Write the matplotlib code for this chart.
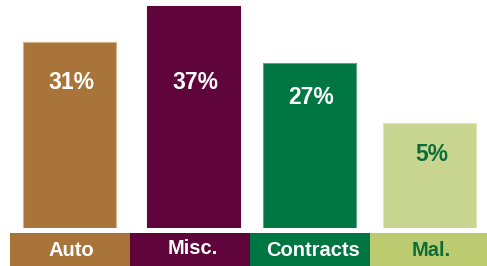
import matplotlib
matplotlib.use("Agg")
import matplotlib.pyplot as plt
import numpy as np

# Data
categories = ["Auto", "Misc.", "Contracts", "Mal."]
value_labels = ["31%", "37%", "27%", "5%"]
bar_heights = [31, 37, 27.5, 17.5]   # drawn heights

# Styles
bar_colors = ["#A8743A", "#5F053B", "#007642", "#C9D692"]
edge_colors = ["#D2B48C", "#5F053B", "#5FA57F", "#DDE6BC"]
strip_colors = ["#A8743A", "#5F053B", "#007642", "#BCCB6F"]
text_colors = ["white", "white", "white", "#0B6E3A"]
label_y = [24.3, 24.2, 21.7, 12.2]
x_offsets = [0.0, 0.037, 0.0, 0.0]

plt.rcParams['font.family'] = ['Liberation Sans', 'DejaVu Sans']

fig = plt.figure(figsize=(4.87, 2.66), dpi=100)
fig.patch.set_facecolor("white")

x = np.arange(len(categories)) + np.array(x_offsets)
xlim = (-69 / 120, (487 - 69) / 120)

ax = fig.add_axes([0, 1 - 228 / 266, 1, 228 / 266])
ax.bar(x, bar_heights, width=0.775, color=bar_colors, edgecolor=edge_colors, linewidth=0.8)
for xi, lab, ly, tc in zip(x, value_labels, label_y, text_colors):
    ax.text(xi + 0.02, ly, lab, ha="center", va="center", color=tc, fontsize=16.5, fontweight="bold")
ax.set_xlim(*xlim)
ax.set_ylim(0, 38)
ax.axis("off")

axs = fig.add_axes([0, 0, 1, 32.7 / 266])
xs = np.arange(len(categories)) + 0.011
axs.bar(xs, [1] * len(categories), width=1.0, bottom=0, color=strip_colors, linewidth=0)
for xi, lab, tc, dx, dy in zip(np.arange(len(categories)), categories, text_colors,
                               [0.02, 0.035, 0.03, 0.02], [0.0, 0.06, 0.0, 0.0]):
    axs.text(xi + dx, 0.46 + dy, lab, ha="center", va="center", color=tc, fontsize=14.5, fontweight="bold")
axs.set_xlim(*xlim)
axs.set_ylim(0, 1)
axs.axis("off")

fig.savefig("out.png", dpi=100, facecolor="white")
